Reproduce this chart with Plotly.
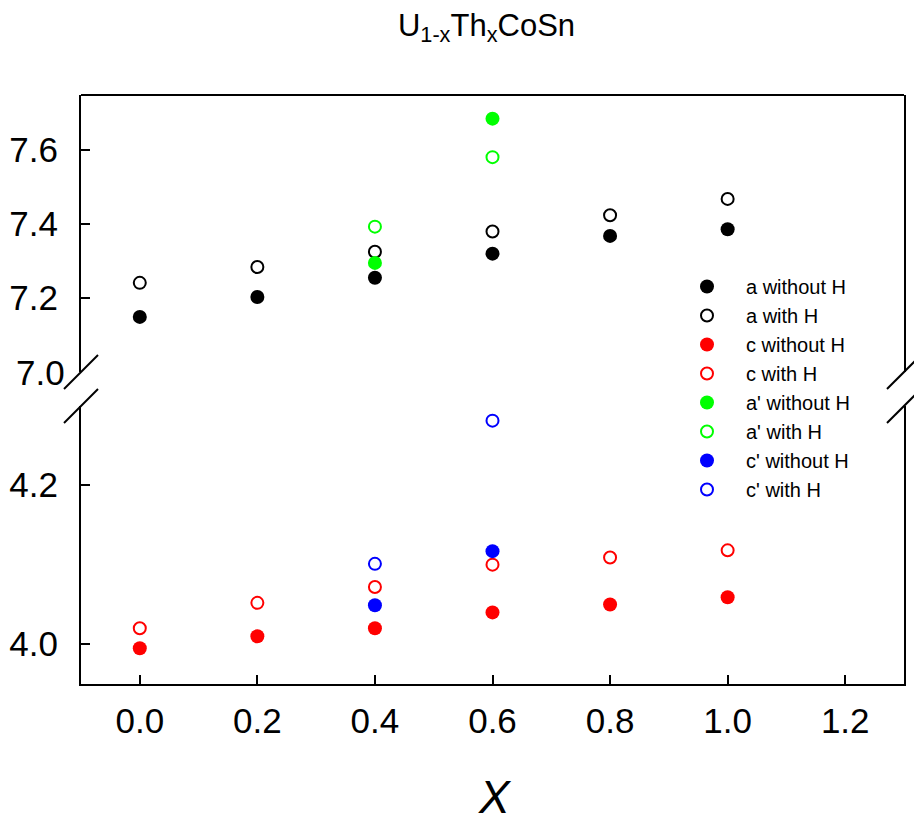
import plotly.graph_objects as go

# Th content x and lattice parameters (Å)
x_all = [0.0, 0.2, 0.4, 0.6, 0.8, 1.0]
a_without_H = [7.149, 7.203, 7.255, 7.320, 7.368, 7.386]
a_with_H = [7.241, 7.284, 7.325, 7.380, 7.424, 7.468]
c_without_H = [3.995, 4.010, 4.020, 4.040, 4.050, 4.059]
c_with_H = [4.020, 4.052, 4.072, 4.100, 4.109, 4.118]

x_prime = [0.4, 0.6]
a2_without_H = [7.295, 7.685]
a2_with_H = [7.393, 7.581]
c2_without_H = [4.049, 4.117]
c2_with_H = [4.101, 4.281]

x_ticks = [0.0, 0.2, 0.4, 0.6, 0.8, 1.0, 1.2]
upper_ticks = [7.2, 7.4, 7.6]
lower_ticks = [4.0, 4.2]
upper_break = 7.0

W, H = 914, 820
M = dict(l=81, r=10, t=95, b=136)
plot_w = W - M["l"] - M["r"]
plot_h = H - M["t"] - M["b"]
lower_dom = [0, 278 / plot_h]
upper_dom = [312 / plot_h, 1]

FONT = "Arial, Liberation Sans, sans-serif"

fig = go.Figure()


def add_series(xv, yv, color, filled, name, axis):
    if filled:
        marker = dict(symbol="circle", size=14, color=color, line=dict(width=0))
    else:
        marker = dict(symbol="circle-open", size=12, color=color, line=dict(width=2, color=color))
    fig.add_trace(go.Scatter(x=xv, y=yv, mode="markers", name=name, marker=marker, yaxis=axis))


add_series(x_all, a_without_H, "#000000", True, "a without H", "y2")
add_series(x_all, a_with_H, "#000000", False, "a with H", "y2")
add_series(x_all, c_without_H, "#ff0000", True, "c without H", "y")
add_series(x_all, c_with_H, "#ff0000", False, "c with H", "y")
add_series(x_prime, a2_without_H, "#00ff00", True, "a' without H", "y2")
add_series(x_prime, a2_with_H, "#00ff00", False, "a' with H", "y2")
add_series(x_prime, c2_without_H, "#0000ff", True, "c' without H", "y")
add_series(x_prime, c2_with_H, "#0000ff", False, "c' with H", "y")

axis_common = dict(
    showgrid=False, zeroline=False, showline=True, linecolor="black", linewidth=2,
    ticks="inside", ticklen=9, tickwidth=2, tickcolor="black", automargin=False,
    tickfont=dict(family=FONT, size=35, color="black"),
)

fig.update_layout(
    width=W, height=H, margin=M,
    paper_bgcolor="white", plot_bgcolor="white",
    showlegend=True,
    title=dict(
        text="U<sub>1-x</sub>Th<sub>x</sub>CoSn",
        x=(486.5 - M["l"]) / plot_w, xref="paper", xanchor="center",
        y=1 - 25 / H, yref="container", yanchor="middle",
        font=dict(family=FONT, size=31, color="black"),
    ),
    xaxis=dict(
        range=[-0.1, 1.3], tickvals=x_ticks, ticktext=[f"{v:.1f}" for v in x_ticks],
        anchor="y", ticklabelstandoff=5,
        **axis_common,
    ),
    yaxis=dict(
        domain=lower_dom, range=[3.95, 4.2994], tickvals=lower_ticks,
        ticktext=[f"{v:.1f}" for v in lower_ticks], mirror=True, ticklabelstandoff=14,
        **axis_common,
    ),
    yaxis2=dict(
        domain=upper_dom, range=[7.0, 7.749], tickvals=upper_ticks,
        ticktext=[f"{v:.1f}" for v in upper_ticks], mirror=True, anchor="x", ticklabelstandoff=14,
        **axis_common,
    ),
    legend=dict(
        x=(668 - M["l"]) / plot_w, xanchor="left",
        y=(H - M["b"] - 267) / plot_h, yanchor="top",
        bgcolor="rgba(0,0,0,0)", borderwidth=0, tracegroupgap=0, itemwidth=68,
        font=dict(family=FONT, size=20, color="black"),
    ),
)

# x-axis title below the tick labels
fig.add_annotation(
    x=(495 - M["l"]) / plot_w, xref="paper", y=-(797 - (H - M["b"])) / plot_h, yref="paper",
    xanchor="center", yanchor="middle", text="<i>X</i>", showarrow=False,
    font=dict(family=FONT, size=46, color="black"),
)

# label for the bottom of the upper segment, at the break
fig.add_annotation(
    x=0, xref="paper", y=upper_break, yref="y2", xanchor="right", yanchor="middle",
    text=f"{upper_break:.1f}", showarrow=False, xshift=-14,
    font=dict(family=FONT, size=35, color="black"),
)

# top edge of the frame
fig.add_shape(type="line", xref="paper", yref="paper", x0=0, x1=1, y0=1, y1=1,
              line=dict(color="black", width=2))

# axis-break slashes on both sides of the frame
for xa in (0, 1):
    for ya in (upper_dom[0], lower_dom[1]):
        fig.add_shape(
            type="line", xref="paper", yref="paper",
            xsizemode="pixel", ysizemode="pixel", xanchor=xa, yanchor=ya,
            x0=-17, x1=17, y0=-17, y1=17,
            line=dict(color="black", width=2),
        )

fig.write_html("out.html")
